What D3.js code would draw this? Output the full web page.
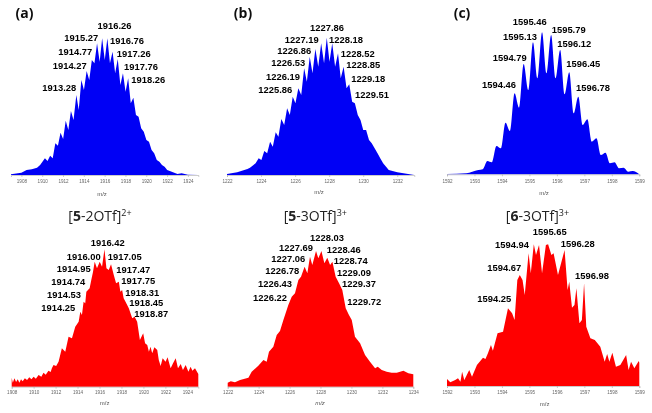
<!DOCTYPE html>
<html><head><meta charset="utf-8">
<script src="https://cdn.jsdelivr.net/npm/d3@7"></script>
<style>html,body{margin:0;padding:0;background:#fff}svg{display:block}</style>
</head><body><svg id="c" width="652" height="413"></svg>
<script>
// Spectra: m/z and relative abundance (base peak about 410)
const mzA=[1907,1908,1908.5,1909,1909.5,1909.8,1910.26,1910.51,1910.76,1911.01,1911.26,1911.51,1911.76,1912.01,1912.26,1912.51,1912.76,1913.01,1913.28,1913.51,1913.76,1914.01,1914.27,1914.52,1914.77,1915.02,1915.27,1915.52,1915.76,1916.01,1916.26,1916.51,1916.76,1917.01,1917.26,1917.51,1917.76,1918.01,1918.26,1918.51,1918.76,1919.01,1919.26,1919.51,1919.76,1920.01,1920.26,1920.51,1920.76,1921.01,1921.26,1921.51,1921.76,1922.01,1922.26,1923,1923.4,1924,1925];
const intA=[2,7,15,17,22,30,50,42,58,50,95,88,127,108,163,135,192,165,240,195,285,255,312,285,345,335,395,340,410,345,410,335,370,305,348,270,305,250,290,215,232,180,175,140,130,105,100,75,65,45,40,30,25,15,12,3,5,1,0];
const mzB=[1222,1222.6,1223.2,1223.35,1223.5,1223.68,1223.86,1224.02,1224.19,1224.36,1224.53,1224.69,1224.86,1225.02,1225.19,1225.36,1225.53,1225.69,1225.86,1226.02,1226.19,1226.36,1226.53,1226.69,1226.86,1227.02,1227.19,1227.36,1227.53,1227.7,1227.86,1228.02,1228.18,1228.35,1228.52,1228.68,1228.85,1229.02,1229.18,1229.35,1229.51,1229.68,1229.84,1230,1230.17,1230.34,1230.5,1230.67,1230.84,1231,1231.17,1231.5,1232,1233];
const intB=[3,8,18,22,28,35,50,45,72,65,100,85,128,115,168,150,200,180,235,215,260,240,320,280,355,305,378,325,395,335,412,340,395,325,365,290,325,260,272,220,215,180,165,135,135,105,95,80,65,50,35,15,8,0];
const mzC=[1592,1592.7,1593.14,1593.3,1593.47,1593.63,1593.8,1593.96,1594.13,1594.29,1594.46,1594.62,1594.79,1594.96,1595.13,1595.29,1595.46,1595.62,1595.79,1595.95,1596.12,1596.28,1596.45,1596.61,1596.78,1596.94,1597.11,1597.27,1597.44,1597.6,1597.77,1597.93,1598.1,1598.26,1598.43,1598.6,1598.76,1599];
const intC=[1,3,13,15,40,36,85,78,155,130,243,200,331,253,396,288,426,303,418,288,373,240,306,183,233,148,165,98,108,58,65,33,36,18,20,8,10,0];
const mzD=[1908,1908.1,1908.25,1908.4,1908.55,1908.7,1908.85,1909,1909.2,1909.4,1909.6,1909.8,1910,1910.2,1910.45,1910.7,1910.9,1911.1,1911.35,1911.55,1911.66,1911.81,1912.05,1912.27,1912.57,1912.88,1913.18,1913.49,1913.79,1914.1,1914.25,1914.4,1914.55,1914.7,1914.8,1915.1,1915.25,1915.41,1915.56,1915.77,1916.02,1916.23,1916.45,1916.63,1916.84,1917.05,1917.3,1917.51,1917.76,1917.9,1918.06,1918.2,1918.37,1918.67,1918.98,1919.2,1919.43,1919.68,1919.98,1920.15,1920.35,1920.5,1920.65,1920.8,1921,1921.26,1921.4,1921.57,1921.75,1922.02,1922.2,1922.48,1922.7,1922.94,1923.15,1923.4,1923.6,1923.85,1924.1,1924.3,1924.46,1924.7,1925];
const intD=[27,12,25,14,22,12,22,16,25,20,28,22,30,24,35,30,42,36,48,44,55,65,62,75,115,105,150,145,180,195,225,215,255,250,285,295,320,345,375,355,375,360,412,355,350,367,335,310,315,285,290,265,255,235,205,210,195,140,160,130,125,105,120,100,118,110,80,62,85,75,88,55,70,85,55,68,50,65,45,60,48,55,38];
const mzE=[1222,1222.2,1222.47,1222.8,1223.1,1223.34,1223.55,1223.98,1224.31,1224.52,1224.67,1224.95,1225.17,1225.38,1225.6,1225.92,1226.14,1226.35,1226.57,1226.74,1226.97,1227.15,1227.32,1227.47,1227.71,1227.86,1228.06,1228.25,1228.44,1228.62,1228.77,1228.98,1229.2,1229.41,1229.63,1229.84,1230.02,1230.23,1230.56,1230.88,1231.2,1231.53,1231.7,1231.96,1232.28,1232.6,1232.93,1233.36,1233.68,1234];
const intE=[12,16,13,20,24,27,45,63,80,75,105,120,155,167,200,245,270,280,320,330,360,340,390,365,407,385,407,370,387,365,375,330,310,290,235,215,200,150,130,95,75,55,60,50,45,42,42,48,40,37];
const mzF=[1592,1592.12,1592.3,1592.4,1592.49,1592.55,1592.63,1592.81,1592.91,1593.09,1593.31,1593.4,1593.49,1593.6,1593.67,1593.84,1594.04,1594.22,1594.37,1594.46,1594.56,1594.65,1594.75,1594.83,1594.97,1595.05,1595.16,1595.24,1595.35,1595.46,1595.6,1595.68,1595.8,1595.88,1596.04,1596.28,1596.39,1596.45,1596.55,1596.64,1596.71,1596.82,1596.91,1596.99,1597.07,1597.22,1597.38,1597.58,1597.74,1597.83,1597.91,1598.02,1598.15,1598.31,1598.52,1598.61,1598.7,1598.82,1598.98,1599];
const intF=[21,11,18,23,13,43,18,48,28,63,85,81,98,123,106,158,163,233,218,198,318,333,318,273,398,338,425,393,423,338,423,425,393,398,333,408,288,313,235,243,293,188,198,308,178,143,138,118,73,96,73,100,58,63,93,48,73,53,75,70];

// Tick labels
const ticksA=[1908,1910,1912,1914,1916,1918,1920,1922,1924];
const ticksB=[1222,1224,1226,1228,1230,1232];
const ticksC=[1592,1593,1594,1595,1596,1597,1598,1599];
const ticksE=[1222,1224,1226,1228,1230,1232,1234];

// Peak annotations
const peaksA=["1916.26","1915.27","1916.76","1914.77","1917.26","1914.27","1917.76","1913.28","1918.26"];
const peaksB=["1227.86","1227.19","1228.18","1226.86","1228.52","1226.53","1228.85","1226.19","1229.18","1225.86","1229.51"];
const peaksC=["1595.46","1595.79","1595.13","1596.12","1594.79","1596.45","1594.46","1596.78"];
const peaksD=["1916.42","1916.00","1917.05","1914.95","1917.47","1914.74","1917.75","1914.53","1918.31","1918.45","1914.25","1918.87"];
const peaksE=["1228.03","1227.69","1228.46","1227.06","1228.74","1226.78","1229.09","1226.43","1229.37","1226.22","1229.72"];
const peaksF=["1595.65","1594.94","1596.28","1594.67","1596.98","1594.25"];

// Layout, kept apart from the data
const placeA=[[114.5,29.3],[81.3,40.7],[127,44.3],[75.3,55.3],[133.7,56.7],[69.7,69],[141,70],[59.3,90.7],[148.3,83.3]];
const placeB=[[327,31.3],[301.7,42.7],[346,43.3],[294.3,54.3],[357.7,56.7],[288.3,65.7],[363.3,67.7],[283,80],[368.3,81.7],[275.3,92.7],[372,97.7]];
const placeC=[[529.7,25.3],[568.7,32.7],[520,39.7],[574.3,47],[509.7,61],[583.3,66.7],[499,87.7],[593,91]];
const placeD=[[107.7,246],[83.7,260],[124.7,260.3],[73.7,272],[133.3,273],[68.3,284.7],[138.3,284.3],[64,298],[142.3,295.7],[146.3,306],[58.3,311.3],[151.3,316.7]];
const placeE=[[327,241],[296,251],[343.7,252.7],[288.3,261.7],[350.7,264.3],[282.3,274.3],[354,275.7],[275,287],[359,287.3],[270,300.7],[364.3,304.7]];
const placeF=[[549.7,235],[512,248.3],[577.7,246.7],[504.3,270.7],[592,279.3],[494.3,302.3]];

const panels=[
 {mz:mzA,y:intA,ticks:ticksA,dom:[1907,1925],px:[11,198.3],base:175,col:"#0000f5",curve:d3.curveLinear,lab:peaksA,pos:placeA,axis:[102,195.5],tickY:183,italic:false},
 {mz:mzB,y:intB,ticks:ticksB,dom:[1222,1233],px:[227,414.3],base:175,col:"#0000f5",curve:d3.curveLinear,lab:peaksB,pos:placeB,axis:[319,194],tickY:183,italic:false},
 {mz:mzC,y:intC,ticks:ticksC,dom:[1592,1599],px:[447,639.3],base:174.3,col:"#0000f5",curve:d3.curveMonotoneX,lab:peaksC,pos:placeC,axis:[544,195],tickY:183,italic:false},
 {mz:mzD,y:intD,ticks:ticksA,dom:[1908,1925],px:[11.7,198.3],base:386.7,col:"#ff0000",curve:d3.curveLinear,lab:peaksD,pos:placeD,axis:[104.7,404.5],tickY:393.5,italic:false},
 {mz:mzE,y:intE,ticks:ticksE,dom:[1222,1234],px:[227.7,413.3],base:386.7,col:"#ff0000",curve:d3.curveLinear,lab:peaksE,pos:placeE,axis:[320,404.5],tickY:393.5,italic:true},
 {mz:mzF,y:intF,ticks:ticksC,dom:[1592,1599],px:[447,639.3],base:386,col:"#ff0000",curve:d3.curveLinear,lab:peaksF,pos:placeF,axis:[544.7,406],tickY:394,italic:false}
];

const panelLetters=[["(a)",24.5],["(b)",243],["(c)",462]];
const titles=[["5","-2OTf","2+",100],["5","-3OTf","3+",315.3],["6","-3OTf","3+",537.5]];

const svg=d3.select("#c");
const defs=svg.append("defs");
defs.append("filter").attr("id","soft").attr("x","-5%").attr("y","-5%").attr("width","110%").attr("height","110%")
  .append("feGaussianBlur").attr("stdDeviation",0.35);
const root=svg.append("g").attr("filter","url(#soft)");
root.append("rect").attr("width",652).attr("height",413).attr("fill","#fff");

panels.forEach(p=>{
  const x=d3.scaleLinear().domain(p.dom).range(p.px);
  const y=d3.scaleLinear().domain([0,412]).range([p.base,p.base-412/3]);
  const g=root.append("g");
  const pts=d3.zip(p.mz,p.y);
  g.append("path").attr("d",d3.area().x(d=>x(d[0])).y0(y(0)).y1(d=>y(d[1])).curve(p.curve)(pts)).attr("fill",p.col);
  const ax=g.append("g").attr("transform",`translate(0,${p.base})`)
    .call(d3.axisBottom(x).tickValues(p.ticks).tickFormat(d3.format("d")).tickSize(2).tickPadding(1.5));
  ax.selectAll("path,line").attr("stroke","#aaa").attr("stroke-width",0.6);
  ax.selectAll("text").attr("fill","#666").attr("font-size",4.6).attr("font-family","Liberation Sans");
  ax.selectAll("text").attr("y",null).attr("dy",null).attr("transform",`translate(0,${p.tickY-p.base})`).attr("text-anchor","middle");
  g.append("text").attr("x",p.axis[0]).attr("y",p.axis[1]).attr("text-anchor","middle")
    .attr("font-size",6).attr("fill","#555").attr("font-family","Liberation Sans")
    .attr("font-style",p.italic?"italic":"normal").text("m/z");
  g.selectAll("text.pk").data(p.lab).join("text").attr("class","pk")
    .attr("x",(d,i)=>p.pos[i][0]).attr("y",(d,i)=>p.pos[i][1])
    .attr("text-anchor","middle").attr("font-size",9.4).attr("font-weight","bold")
    .attr("font-family","Liberation Sans").attr("fill","#000").text(d=>d);
});

panelLetters.forEach(d=>{
  root.append("text").attr("x",d[1]).attr("y",18).attr("text-anchor","middle")
    .attr("font-family","Open Sans").attr("font-weight","bold").attr("font-size",14).attr("fill","#111").text(d[0]);
});
titles.forEach(d=>{
  const t=root.append("text").attr("x",d[3]).attr("y",221).attr("text-anchor","middle")
    .attr("font-family","Open Sans").attr("font-size",14).attr("fill","#222");
  t.append("tspan").text("[");
  t.append("tspan").attr("font-weight","bold").text(d[0]);
  t.append("tspan").text(d[1]+"]");
  t.append("tspan").attr("font-size",9).attr("dy",-5).text(d[2]);
});
</script></body></html>
